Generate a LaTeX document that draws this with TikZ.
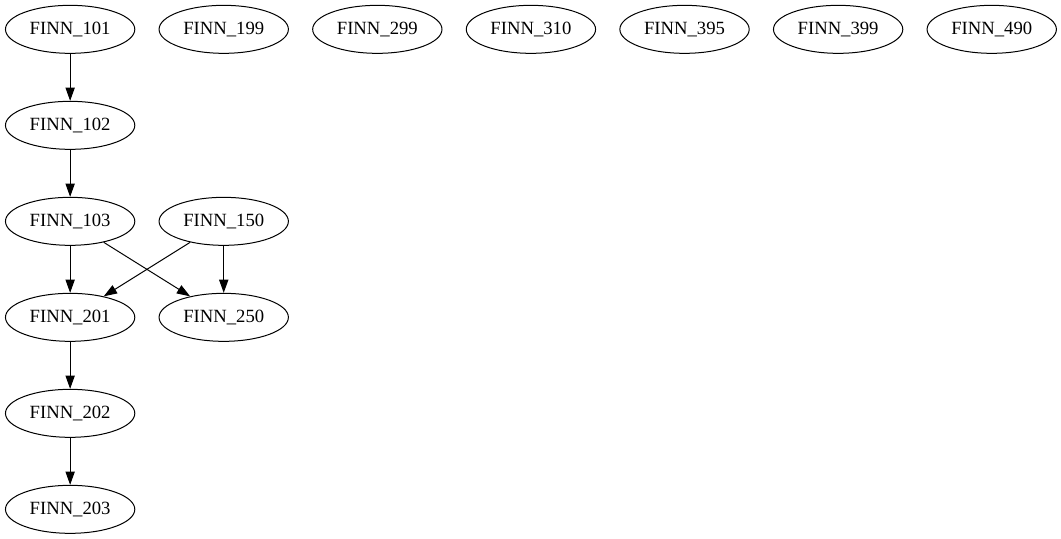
\documentclass[tikz,border=0pt]{standalone}
\usepackage{fontspec}
\setmainfont{Liberation Serif}
\usetikzlibrary{shapes.geometric, arrows.meta}

\begin{document}
\begin{tikzpicture}[x=1pt, y=1pt,
        finn/.style={draw, ellipse, line width=0.75pt, minimum width=97pt, minimum height=36pt, inner sep=0pt, font=\fontsize{14}{16}\selectfont},
        dep/.style={-{Triangle[length=10pt,width=7pt]}, line width=0.75pt}]
        % keep the page the same size as the reference
        \useasboundingbox (0,0) rectangle (795.75,-404.25);

        % first column: the long chain
        \node[finn] (f101) at (52.6,-22) {FINN\_101};
        \node[finn] (f102) at (52.6,-94) {FINN\_102};
        \node[finn] (f103) at (52.6,-166) {FINN\_103};
        \node[finn] (f201) at (52.6,-238) {FINN\_201};
        \node[finn] (f202) at (52.6,-310) {FINN\_202};
        \node[finn] (f203) at (52.6,-382) {FINN\_203};

        % second column
        \node[finn] (f199) at (167.8,-22) {FINN\_199};
        \node[finn] (f150) at (167.8,-166) {FINN\_150};
        \node[finn] (f250) at (167.8,-238) {FINN\_250};

        % top row, nodes with no edges
        \node[finn] (f299) at (283,-22) {FINN\_299};
        \node[finn] (f310) at (398.2,-22) {FINN\_310};
        \node[finn] (f395) at (513.4,-22) {FINN\_395};
        \node[finn] (f399) at (628.6,-22) {FINN\_399};
        \node[finn] (f490) at (743.8,-22) {FINN\_490};

        % edges
        \draw[dep] (f101) -- (f102);
        \draw[dep] (f102) -- (f103);
        \draw[dep] (f103) -- (f201);
        \draw[dep] (f103) -- (f250); % crosses the one below
        \draw[dep] (f150) -- (f201);
        \draw[dep] (f150) -- (f250);
        \draw[dep] (f201) -- (f202);
        \draw[dep] (f202) -- (f203);
    \end{tikzpicture}
\end{document}
